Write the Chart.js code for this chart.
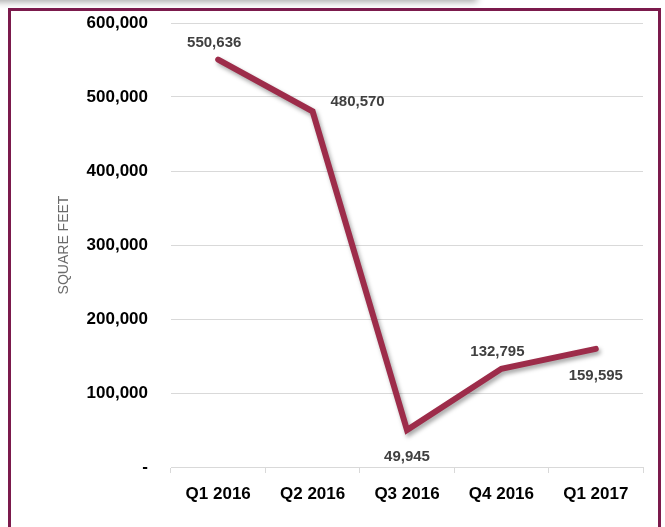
<!DOCTYPE html>
<html>
<head>
<meta charset="utf-8">
<script src="https://cdn.jsdelivr.net/npm/chart.js@4/dist/chart.umd.min.js"></script>
<style>
  body { margin: 0; background: #fff; overflow: hidden; }
  #shade { position: absolute; left: -10px; top: -20px; width: 487px; height: 20px; background: #fff;
           box-shadow: 0 2px 7px rgba(0,0,0,0.35); }
  #frame { position: absolute; left: 8px; top: 8px; width: 647px; height: 540px; border: 3px solid #7b1a4c; }
  #wrap { position: absolute; left: 0; top: 0; width: 647px; height: 516px; }
</style>
</head>
<body>
<div id="shade"></div>
<div id="frame"><div id="wrap"><canvas id="chart"></canvas></div></div>
<script>
const quarters = ['Q1 2016', 'Q2 2016', 'Q3 2016', 'Q4 2016', 'Q1 2017'];
const squareFeet = [550636, 480570, 49945, 132795, 159595];
const labelSide = ['top', 'right', 'bottom', 'top', 'bottom'];
const yTicks = [0, 100000, 200000, 300000, 400000, 500000, 600000];

const fmt = v => v === 0 ? '-' : v.toLocaleString('en-US');

// soft shadow under the line
const lineShadow = {
  id: 'lineShadow',
  beforeDatasetsDraw(chart) {
    const ctx = chart.ctx;
    ctx.save();
    ctx.shadowColor = 'rgba(0,0,0,0.35)';
    ctx.shadowBlur = 4;
    ctx.shadowOffsetX = 2;
    ctx.shadowOffsetY = 3;
  },
  afterDatasetsDraw(chart) {
    chart.ctx.restore();
  }
};

// value labels beside each point
const valueLabels = {
  id: 'valueLabels',
  afterDatasetsDraw(chart) {
    const ctx = chart.ctx;
    const meta = chart.getDatasetMeta(0);
    ctx.save();
    ctx.font = 'bold 15px "Liberation Sans", Arial, sans-serif';
    ctx.fillStyle = '#404040';
    ctx.textAlign = 'center';
    ctx.textBaseline = 'middle';
    meta.data.forEach((pt, i) => {
      let x = pt.x, y = pt.y;
      if (labelSide[i] === 'top') { y -= 17; x -= 4; }
      if (labelSide[i] === 'bottom') { y += 27; }
      if (labelSide[i] === 'right') { x += 45; y -= 10; }
      ctx.fillText(fmt(squareFeet[i]), x, y);
    });
    ctx.restore();
  }
};

new Chart(document.getElementById('chart'), {
  type: 'line',
  data: {
    labels: quarters,
    datasets: [{
      data: squareFeet,
      borderColor: '#9d2c4a',
      borderWidth: 6,
      borderCapStyle: 'round',
      borderJoinStyle: 'miter',
      pointRadius: 0,
      tension: 0
    }]
  },
  options: {
    responsive: true,
    maintainAspectRatio: false,
    animation: false,
    layout: { padding: { left: 41, top: 12, right: 15, bottom: 0 } },
    plugins: { legend: { display: false }, tooltip: { enabled: false } },
    scales: {
      x: {
        offset: true,
        grid: { offset: true, drawOnChartArea: false, tickLength: 6, color: '#d9d9d9' },
        border: { color: '#d9d9d9' },
        ticks: { padding: 11, color: '#000', font: { family: '"Liberation Sans", Arial', size: 17, weight: 'bold' } },
        afterFit(s) { s.height = 60; s.paddingLeft = 0; s.paddingRight = 0; }
      },
      y: {
        min: 0,
        max: 600000,
        afterBuildTicks(s) { s.ticks = yTicks.map(v => ({ value: v })); },
        grid: { color: '#d9d9d9', drawTicks: false },
        border: { display: false },
        ticks: {
          padding: 23,
          color: '#000',
          font: { family: '"Liberation Sans", Arial', size: 17, weight: 'bold' },
          callback: v => fmt(v)
        },
        title: {
          display: true,
          text: 'SQUARE FEET',
          color: '#6b6b6b',
          font: { family: '"Liberation Sans", Arial', size: 14, weight: 'normal' }
        },
        afterFit(s) { s.width = 119; s.paddingTop = 0; s.paddingBottom = 0; }
      }
    }
  },
  plugins: [lineShadow, valueLabels]
});
</script>
</body>
</html>
